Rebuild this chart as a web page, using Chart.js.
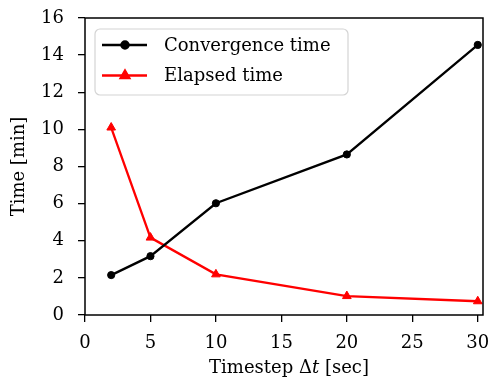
<!DOCTYPE html>
<html lang="en">
<head>
    <meta charset="UTF-8">
    <title>Convergence vs Elapsed time</title>
    <script src="https://cdn.jsdelivr.net/npm/chart.js"></script>
    <style>
        html, body { margin: 0; padding: 0; background: #fff; }
        .chart-container { position: relative; width: 489px; height: 382px; }
    </style>
</head>
<body>
    <div class="chart-container">
        <canvas id="timeChart" width="489" height="382"></canvas>
    </div>

    <script>
        // Data
        const timesteps = [2, 5, 10, 20, 30];
        const convergenceTime = [2.15, 3.17, 6.02, 8.65, 14.55];
        const elapsedTime = [10.1, 4.17, 2.19, 1.02, 0.74];
        const xTicks = [0, 5, 10, 15, 20, 25, 30];
        const yTicks = [0, 2, 4, 6, 8, 10, 12, 14, 16];

        const FONT = '"DejaVu Serif", "Liberation Serif", serif';
        const FONT_SIZE = 18;

        // frame, in-axes legend and axis titles (mixed italic in the x title)
        const decorations = {
            id: 'decorations',
            afterDatasetsDraw(chart) {
                const ctx = chart.ctx;
                const a = chart.chartArea;
                ctx.save();

                // frame
                ctx.strokeStyle = '#000';
                ctx.lineWidth = 1.5;
                ctx.strokeRect(a.left, a.top, a.right - a.left, a.bottom - a.top);

                // legend box
                const bx = 95, by = 29, bw = 253, bh = 66, r = 5;
                ctx.beginPath();
                ctx.roundRect(bx, by, bw, bh, r);
                ctx.fillStyle = 'rgba(255,255,255,0.85)';
                ctx.fill();
                ctx.strokeStyle = '#d4d4d4';
                ctx.lineWidth = 1.2;
                ctx.stroke();

                const rows = [45, 75.5];
                chart.data.datasets.forEach((ds, i) => {
                    const y = rows[i];
                    ctx.strokeStyle = ds.borderColor;
                    ctx.lineWidth = ds.borderWidth;
                    ctx.beginPath();
                    ctx.moveTo(102, y);
                    ctx.lineTo(147, y);
                    ctx.stroke();
                    ctx.fillStyle = ds.pointBackgroundColor;
                    ctx.strokeStyle = ds.borderColor;
                    Chart.helpers.drawPoint(ctx, {
                        pointStyle: ds.pointStyle,
                        radius: ds.pointRadius,
                        borderWidth: 1,
                        rotation: 0
                    }, 125, y);
                    ctx.fillStyle = '#000';
                    ctx.font = FONT_SIZE + 'px ' + FONT;
                    ctx.textBaseline = 'middle';
                    ctx.textAlign = 'left';
                    ctx.fillText(ds.label, 164, y + 1);
                });

                // y axis title
                ctx.fillStyle = '#000';
                ctx.font = FONT_SIZE + 'px ' + FONT;
                ctx.save();
                ctx.translate(19, (a.top + a.bottom) / 2);
                ctx.rotate(-Math.PI / 2);
                ctx.textAlign = 'center';
                ctx.textBaseline = 'middle';
                ctx.fillText('Time [min]', 0, 0);
                ctx.restore();

                // x axis title: "Timestep Δt [sec]" with italic t
                const parts = [
                    { text: 'Timestep Δ', font: FONT_SIZE + 'px ' + FONT },
                    { text: 't', font: 'italic ' + FONT_SIZE + 'px ' + FONT },
                    { text: ' [sec]', font: FONT_SIZE + 'px ' + FONT }
                ];
                let total = 0;
                parts.forEach(p => { ctx.font = p.font; p.w = ctx.measureText(p.text).width; total += p.w; });
                let x = 289 - total / 2;
                ctx.textAlign = 'left';
                ctx.textBaseline = 'middle';
                parts.forEach(p => { ctx.font = p.font; ctx.fillText(p.text, x, 368); x += p.w; });

                ctx.restore();
            }
        };

        new Chart(document.getElementById('timeChart').getContext('2d'), {
            type: 'line',
            data: {
                datasets: [{
                    label: 'Convergence time',
                    data: timesteps.map((t, i) => ({ x: t, y: convergenceTime[i] })),
                    borderColor: '#000000',
                    backgroundColor: '#000000',
                    pointBackgroundColor: '#000000',
                    borderWidth: 2.3,
                    pointStyle: 'circle',
                    pointRadius: 3.6,
                    pointBorderWidth: 1,
                    tension: 0
                }, {
                    label: 'Elapsed time',
                    data: timesteps.map((t, i) => ({ x: t, y: elapsedTime[i] })),
                    borderColor: '#ff0000',
                    backgroundColor: '#ff0000',
                    pointBackgroundColor: '#ff0000',
                    borderWidth: 2.3,
                    pointStyle: 'triangle',
                    pointRadius: 5,
                    pointBorderWidth: 1,
                    tension: 0
                }]
            },
            options: {
                responsive: false,
                animation: false,
                devicePixelRatio: 1,
                layout: { padding: { left: 0, top: 18, right: 4, bottom: 0 } },
                plugins: {
                    legend: { display: false },
                    tooltip: { enabled: false }
                },
                scales: {
                    x: {
                        type: 'linear',
                        min: 0,
                        max: 30.4,
                        afterFit: s => { s.height = 67; s.paddingLeft = 0; s.paddingRight = 0; },
                        afterBuildTicks: s => { s.ticks = xTicks.map(v => ({ value: v })); },
                        border: { display: false },
                        grid: { drawOnChartArea: false, drawTicks: true, tickLength: 7, color: '#000', lineWidth: 1.3 },
                        ticks: { color: '#000', padding: 11, maxRotation: 0, autoSkip: false, font: { family: FONT, size: FONT_SIZE } }
                    },
                    y: {
                        min: 0,
                        max: 16,
                        afterFit: s => { s.width = 85; s.paddingTop = 0; s.paddingBottom = 0; },
                        afterBuildTicks: s => { s.ticks = yTicks.map(v => ({ value: v })); },
                        border: { display: false },
                        grid: { drawOnChartArea: false, drawTicks: true, tickLength: 7, color: '#000', lineWidth: 1.3 },
                        ticks: { color: '#000', padding: 14, autoSkip: false, font: { family: FONT, size: FONT_SIZE } }
                    }
                }
            },
            plugins: [decorations]
        });
    </script>
</body>
</html>
